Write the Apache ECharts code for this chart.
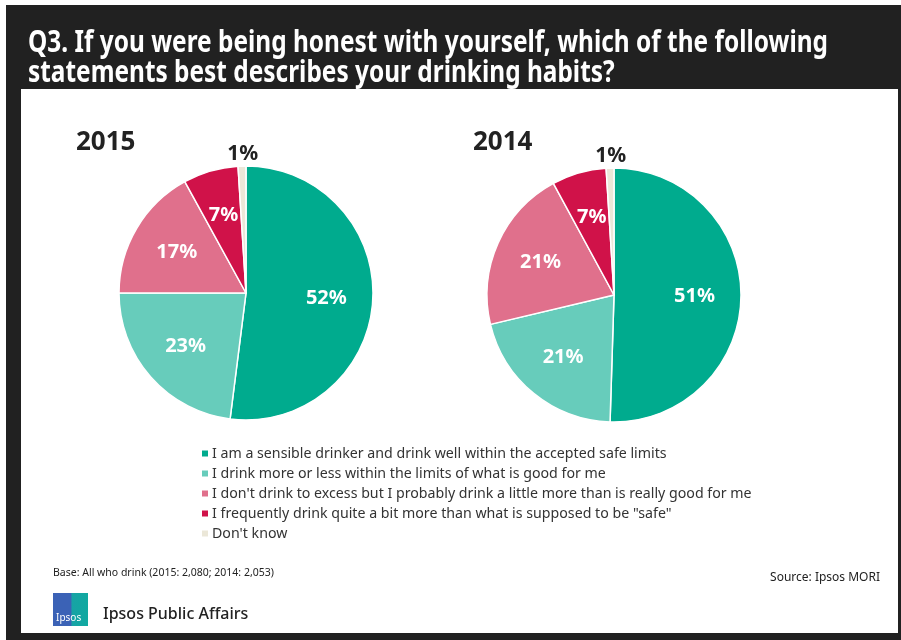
<!DOCTYPE html>
<html><head><meta charset="utf-8">
<script src="https://cdn.jsdelivr.net/npm/echarts@6/dist/echarts.min.js"></script>
<style>html,body{margin:0;padding:0;background:#fff}#c{width:901px;height:640px}</style>
</head><body><div id="c"></div>
<script>
// ---- data ----
const categories = [
  'I am a sensible drinker and drink well within the accepted safe limits',
  'I drink more or less within the limits of what is good for me',
  "I don't drink to excess but I probably drink a little more than is really good for me",
  'I frequently drink quite a bit more than what is supposed to be "safe"',
  "Don't know"
];
const values2015 = [52, 23, 17, 7, 1];
const values2014 = [51, 21, 21, 7, 1];
const years = ['2015', '2014'];
const titleLines = [
  'Q3. If you were being honest with yourself, which of the following',
  'statements best describes your drinking habits?'
];
const baseNote = 'Base: All who drink (2015: 2,080; 2014: 2,053)';
const sourceNote = 'Source: Ipsos MORI';
const brand = 'Ipsos Public Affairs';

// ---- style ----
const colors = ['#00ab8e', '#67ccbb', '#e0708c', '#d01249', '#ebe7d8'];
const FONT = '"Noto Sans", "Open Sans", sans-serif';
const dark = '#222222';

const mctx = document.createElement('canvas').getContext('2d');
function fitScale(text, font, target) { mctx.font = font; return target / mctx.measureText(text).width; }

const titleFont = 'bold 30px ' + FONT;
const titleScale = fitScale(titleLines[0], titleFont, 800);

function pieSeries(vals, center, idx) {
  const data = categories.map((n, i) => ({ name: n, value: vals[i] }));
  const labelData = categories.map((n, i) => {
    const d = { name: n, value: vals[i] };
    if (i === 4) {
      d.label = { position: 'outside', color: dark, fontSize: 21 };
      d.labelLine = { show: false, length: 12, length2: 0 };
    }
    return d;
  });
  return [
    {
      type: 'pie', name: years[idx], center: center, radius: [0, 127],
      startAngle: 90, clockwise: true, avoidLabelOverlap: false, silent: true,
      itemStyle: { borderColor: '#fff', borderWidth: 1.5 },
      label: { show: false }, labelLine: { show: false },
      data: data
    },
    {
      type: 'pie', name: years[idx] + 'L', center: center, radius: [28, 127],
      startAngle: 90, clockwise: true, avoidLabelOverlap: false, silent: true,
      itemStyle: { color: 'rgba(0,0,0,0)', borderWidth: 0 },
      label: {
        show: true, position: 'inside', formatter: '{c}%',
        color: '#fff', fontFamily: FONT, fontWeight: 'bold', fontSize: 20
      },
      labelLine: { show: false },
      labelLayout: function (p) { return p.dataIndex === 4 ? { align: 'center', dx: 6 } : { align: 'center' }; },
      legendHoverLink: false,
      data: labelData
    }
  ];
}

const chart = echarts.init(document.getElementById('c'), null, { renderer: 'canvas' });
chart.setOption({
  animation: false,
  color: colors,
  backgroundColor: '#fff',
  graphic: [
    { type: 'rect', shape: { x: 6, y: 5, width: 895, height: 635 }, style: { fill: '#212121' }, z: -10 },
    { type: 'rect', shape: { x: 21, y: 89, width: 877, height: 544 }, style: { fill: '#fff' }, z: -9 },
    { type: 'text', x: 28, y: 43, scaleX: titleScale, style: { text: titleLines[0], font: titleFont, fill: '#fff', verticalAlign: 'middle' } },
    { type: 'text', x: 28, y: 73, scaleX: titleScale, style: { text: titleLines[1], font: titleFont, fill: '#fff', verticalAlign: 'middle' } },
    { type: 'text', x: 76, y: 143, style: { text: years[0], font: 'bold 26px ' + FONT, fill: dark, verticalAlign: 'middle' } },
    { type: 'text', x: 473, y: 143, style: { text: years[1], font: 'bold 26px ' + FONT, fill: dark, verticalAlign: 'middle' } },
    { type: 'text', x: 53, y: 573, style: { text: baseNote, font: '10.5px ' + FONT, fill: dark, verticalAlign: 'middle' } },
    { type: 'text', x: 880, y: 578, style: { text: sourceNote, font: '12px ' + FONT, fill: dark, verticalAlign: 'middle', align: 'right' } },
    { type: 'rect', shape: { x: 53, y: 593, width: 35, height: 33 },
      style: { fill: new echarts.graphic.LinearGradient(0, 0, 1, 0, [
        { offset: 0, color: '#3b62b6' }, { offset: 0.5, color: '#3b62b6' },
        { offset: 0.55, color: '#17a3a5' }, { offset: 1, color: '#10a9a0' }]) } },
    { type: 'text', x: 56, y: 618, style: { text: 'Ipsos', font: '10px ' + FONT, fill: '#fff', verticalAlign: 'middle' } },
    { type: 'text', x: 103, y: 614, style: { text: brand, font: '500 16px ' + FONT, fill: dark, verticalAlign: 'middle' } }
  ],
  legend: {
    orient: 'vertical', left: 200, top: 446, padding: 0,
    data: categories,
    icon: 'rect', itemWidth: 8, itemHeight: 8, itemGap: 5,
    textStyle: { fontFamily: FONT, fontSize: 14.2, color: '#333', lineHeight: 15, padding: [0, 0, 0, -2] },
    selectedMode: false
  },
  series: [].concat(
    pieSeries(values2015, [246, 293], 0),
    pieSeries(values2014, [614, 295], 1)
  )
});
</script>
</body></html>
